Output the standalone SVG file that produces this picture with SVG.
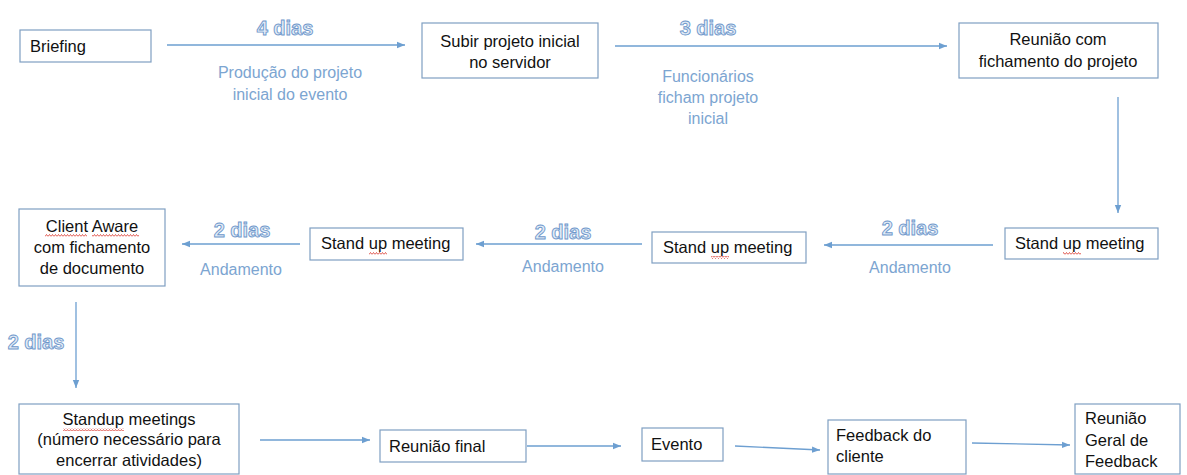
<svg xmlns="http://www.w3.org/2000/svg" width="1187" height="475" viewBox="0 0 1187 475">
<style>
.box{fill:#fff;stroke:#7f9fc2;stroke-width:1.2}
.t{font-family:"Liberation Sans",Arial,sans-serif;font-size:16.5px;fill:#111}
.c{text-anchor:middle}
.lbl{font-family:"Liberation Sans",Arial,sans-serif;font-size:16px;fill:#7ca5d1;text-anchor:middle}
.dias{font-family:"Liberation Sans",Arial,sans-serif;font-size:20px;font-weight:bold;fill:#e1ebf6;stroke:#6e97cb;stroke-width:0.9;text-anchor:middle}
.conn line{stroke:#6d9fd1;stroke-width:1.3;marker-end:url(#ah)}
.sq{fill:url(#squig)}
</style>
<defs>
<marker id="ah" markerUnits="userSpaceOnUse" markerWidth="10" markerHeight="10" refX="8" refY="4" orient="auto">
<path d="M0,0.8 L8,4 L0,7.2 Z" fill="#6d9fd1"/>
</marker>
<pattern id="squig" patternUnits="userSpaceOnUse" width="3" height="3">
<path d="M0,2.5 L1.5,0.5 L3,2.5" fill="none" stroke="#d9352b" stroke-width="0.8"/>
</pattern>
</defs>
<rect width="1187" height="475" fill="#fff"/>

<g id="connectors" class="conn">
<line x1="167" y1="45" x2="405" y2="45"/>
<line x1="615" y1="46" x2="947" y2="46"/>
<line x1="1118" y1="97" x2="1118" y2="213"/>
<line x1="993" y1="245" x2="824" y2="245"/>
<line x1="642" y1="244" x2="476" y2="244"/>
<line x1="300" y1="244" x2="182" y2="244"/>
<line x1="76" y1="302" x2="76" y2="388"/>
<line x1="260" y1="440" x2="370" y2="440"/>
<line x1="527" y1="446" x2="621" y2="446"/>
<line x1="735" y1="446" x2="820" y2="450"/>
<line x1="972" y1="443" x2="1070" y2="445"/>
</g>

<g id="labels">
<text class="dias" x="285" y="35">4 dias</text>
<text class="lbl" x="290" y="78">Produção do projeto</text>
<text class="lbl" x="290" y="100">inicial do evento</text>
<text class="dias" x="708" y="35">3 dias</text>
<text class="lbl" x="708" y="82">Funcionários</text>
<text class="lbl" x="708" y="103">ficham projeto</text>
<text class="lbl" x="708" y="124">inicial</text>
<text class="dias" x="910" y="235">2 dias</text>
<text class="lbl" x="910" y="273">Andamento</text>
<text class="dias" x="563" y="239">2 dias</text>
<text class="lbl" x="563" y="272">Andamento</text>
<text class="dias" x="242" y="237">2 dias</text>
<text class="lbl" x="241" y="275">Andamento</text>
<text class="dias" x="36" y="349">2 dias</text>
</g>

<g id="briefing">
<rect class="box" x="20" y="30" width="131" height="32"/>
<text class="t" x="30" y="52">Briefing</text>
</g>

<g id="subir">
<rect class="box" x="422" y="23" width="176" height="55"/>
<text class="t c" x="510" y="47">Subir projeto inicial</text>
<text class="t c" x="510" y="68">no servidor</text>
</g>

<g id="reuniao-fichamento">
<rect class="box" x="959" y="23" width="199" height="55"/>
<text class="t c" x="1058" y="45">Reunião com</text>
<text class="t c" x="1058" y="67">fichamento do projeto</text>
</g>

<g id="standup-1">
<rect class="box" x="1005" y="228" width="153" height="31"/>
<text class="t" x="1015" y="249">Stand up meeting</text>
<rect class="sq" x="1063" y="252" width="18" height="3"/>
</g>

<g id="standup-2">
<rect class="box" x="652" y="232" width="154" height="31"/>
<text class="t" x="663" y="253">Stand up meeting</text>
<rect class="sq" x="711" y="256" width="18" height="3"/>
</g>

<g id="standup-3">
<rect class="box" x="310" y="228" width="153" height="32"/>
<text class="t" x="321" y="249">Stand up meeting</text>
<rect class="sq" x="369" y="252" width="18" height="3"/>
</g>

<g id="client-aware">
<rect class="box" x="19" y="209" width="146" height="77"/>
<text class="t c" x="92" y="232">Client Aware</text>
<text class="t c" x="92" y="253">com fichamento</text>
<text class="t c" x="92" y="274">de documento</text>
<rect class="sq" x="45" y="234" width="42" height="3"/>
<rect class="sq" x="92" y="234" width="47" height="3"/>
</g>

<g id="standup-meetings">
<rect class="box" x="19" y="404" width="220" height="70"/>
<text class="t c" x="129" y="425">Standup meetings</text>
<text class="t c" x="129" y="445">(número necessário para</text>
<text class="t c" x="129" y="466">encerrar atividades)</text>
<rect class="sq" x="63" y="428" width="61" height="3"/>
</g>

<g id="reuniao-final">
<rect class="box" x="380" y="430" width="146" height="32"/>
<text class="t" x="389" y="452">Reunião final</text>
</g>

<g id="evento">
<rect class="box" x="642" y="428" width="81" height="33"/>
<text class="t" x="651" y="450">Evento</text>
</g>

<g id="feedback-cliente">
<rect class="box" x="828" y="420" width="138" height="54"/>
<text class="t" x="836" y="441">Feedback do</text>
<text class="t" x="836" y="462">cliente</text>
</g>

<g id="reuniao-geral">
<rect class="box" x="1075" y="404" width="105" height="70"/>
<text class="t" x="1085" y="424">Reunião</text>
<text class="t" x="1085" y="446">Geral de</text>
<text class="t" x="1085" y="467">Feedback</text>
</g>
</svg>
